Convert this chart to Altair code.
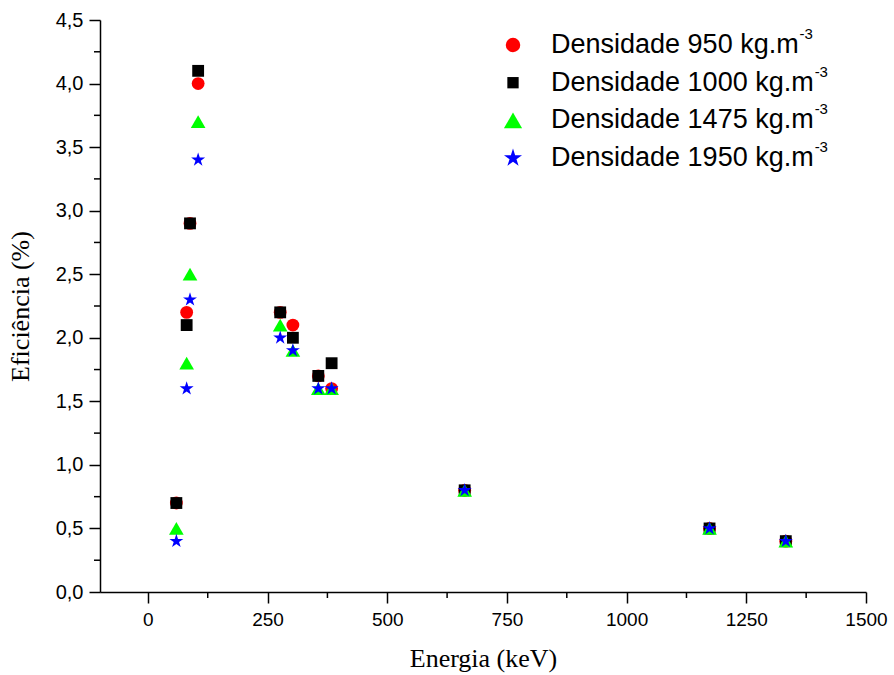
import altair as alt
import pandas as pd

# ---- data ----
energy = [59.5, 81, 88, 105, 276.4, 302.9, 356, 383.8, 661.7, 1173.2, 1332.5]
densities = ["950", "1000", "1475", "1950"]
eff_950 = [0.7, 2.2, 2.9, 4.0, 2.2, 2.1, 1.7, 1.6, 0.8, 0.5, 0.4]
eff_1000 = [0.7, 2.1, 2.9, 4.1, 2.2, 2.0, 1.7, 1.8, 0.8, 0.5, 0.4]
eff_1475 = [0.5, 1.8, 2.5, 3.7, 2.1, 1.9, 1.6, 1.6, 0.8, 0.5, 0.4]
eff_1950 = [0.4, 1.6, 2.3, 3.4, 2.0, 1.9, 1.6, 1.6, 0.8, 0.5, 0.4]

y_major = [0, 0.5, 1.0, 1.5, 2.0, 2.5, 3.0, 3.5, 4.0, 4.5]
y_minor = [0.25, 0.75, 1.25, 1.75, 2.25, 2.75, 3.25, 3.75, 4.25]
x_major = [0, 250, 500, 750, 1000, 1250, 1500]
x_minor = [125, 375, 625, 875, 1125, 1375]

# ---- styles ----
STAR = ("M0,-1L0.2245,-0.309L0.9511,-0.309L0.3633,0.118L0.5878,0.809L0,0.382"
        "L-0.5878,0.809L-0.3633,0.118L-0.9511,-0.309L-0.2245,-0.309Z")
colors = ["#ff0000", "#000000", "#00ff00", "#0000ff"]
shapes = ["circle", "square", "triangle-up", STAR]
sizes = [165, 140, 215, 215]
legend_sizes = [210, 128, 330, 360]

W, H = 766, 572
X_DOM = [-100, 1500]
Y_DOM = [0, 4.5]

rows = []
for d, vals in zip(densities, [eff_950, eff_1000, eff_1475, eff_1950]):
    for e, v in zip(energy, vals):
        rows.append({"x": e, "y": v, "dens": d})
df = pd.DataFrame(rows)

legend_df = pd.DataFrame({"dens": densities, "row": list(range(len(densities)))})

xs = alt.Scale(domain=X_DOM, nice=False, zero=False)
ys = alt.Scale(domain=Y_DOM, nice=False, zero=False)
x_axis = alt.Axis(values=x_major, format="d", title="Energia (keV)",
                  labelFont="Liberation Sans", labelFontSize=19,
                  titlePadding=16, labelPadding=7)
y_axis = alt.Axis(values=y_major,
                  labelExpr="replace(format(datum.value, '.1f'), '.', ',')",
                  title="Eficiência (%)", titlePadding=22, labelPadding=6)
X = lambda f: alt.X(f, scale=xs, axis=x_axis, title="Energia (keV)")
Y = lambda f: alt.Y(f, scale=ys, axis=y_axis, title="Eficiência (%)")

color_enc = alt.Color("dens:N", scale=alt.Scale(domain=densities, range=colors), legend=None)
shape_enc = alt.Shape("dens:N", scale=alt.Scale(domain=densities, range=shapes), legend=None)
size_enc = alt.Size("dens:N", scale=alt.Scale(type="ordinal", domain=densities, range=sizes),
                    legend=None)
leg_size_enc = alt.Size("dens:N",
                        scale=alt.Scale(type="ordinal", domain=densities, range=legend_sizes),
                        legend=None)

points = alt.Chart(df).mark_point(filled=True, opacity=1, strokeWidth=0).encode(
    x=X("x:Q"), y=Y("y:Q"),
    color=color_enc, shape=shape_enc, size=size_enc,
    order=alt.Order("dens_order:Q"),
).transform_calculate(
    dens_order="indexof(['950','1000','1475','1950'], datum.dens)"
)

ymin_df = pd.DataFrame({"y": y_minor})
xmin_df = pd.DataFrame({"x": x_minor})

y_minor_ticks = alt.Chart(ymin_df).mark_rule(color="black", strokeWidth=1.5).encode(
    y=Y("y:Q"), x=alt.value(-6), x2=alt.value(0),
)
x_minor_ticks = alt.Chart(xmin_df).mark_rule(color="black", strokeWidth=1.5).encode(
    x=X("x:Q"), y=alt.value(H), y2=alt.value(H + 6),
)

# legend rows placed in data units of the shared scales
LEG_FS = 27
px2x = f"({X_DOM[0]} + ({{p}}) / {W} * {X_DOM[1] - X_DOM[0]})"
px2y = f"({Y_DOM[1]} - ({{p}}) / {H} * {Y_DOM[1] - Y_DOM[0]})"
row_px = "(25 + datum.row * 37.7)"
sup_px = f"(452 + {LEG_FS} * (7.503 + 0.556 * length(datum.dens)))"
leg_base = alt.Chart(legend_df).transform_calculate(
    ly=px2y.format(p=row_px),
    sy=px2y.format(p=row_px + " - 11"),
    lx=px2x.format(p="413"),
    tx=px2x.format(p="451"),
    sx=px2x.format(p=sup_px),
    label="'Densidade ' + datum.dens + ' kg.m'",
)
leg_marks = leg_base.mark_point(filled=True, opacity=1, strokeWidth=0).encode(
    x=X("lx:Q"), y=Y("ly:Q"),
    color=color_enc, shape=shape_enc, size=leg_size_enc,
)
leg_text = leg_base.mark_text(align="left", baseline="middle", font="Liberation Sans",
                              fontSize=LEG_FS, color="black").encode(
    x=X("tx:Q"), y=Y("ly:Q"), text="label:N",
)
leg_sup = leg_base.mark_text(align="left", baseline="middle", font="Liberation Sans",
                             fontSize=15, color="black").encode(
    x=X("sx:Q"), y=Y("sy:Q"), text=alt.value("-3"),
)

chart = alt.layer(
    points, y_minor_ticks, x_minor_ticks, leg_marks, leg_text, leg_sup
).resolve_scale(size="independent").properties(
    width=W, height=H,
    padding={"left": 100, "top": 20, "right": 28, "bottom": 83},
    autosize="none",
    background="white",
).configure_view(stroke="transparent").configure_axis(
    domainColor="black", domainWidth=1.5,
    tickColor="black", tickWidth=1.5, tickSize=11,
    labelColor="black", labelFont="Liberation Sans", labelFontSize=20,
    titleColor="black", titleFont="Liberation Serif", titleFontSize=26,
    titleFontWeight="normal", grid=False, labelFlush=False, labelOverlap=False,
)

chart.save("out.html", embed_options={"renderer": "svg", "actions": False})
